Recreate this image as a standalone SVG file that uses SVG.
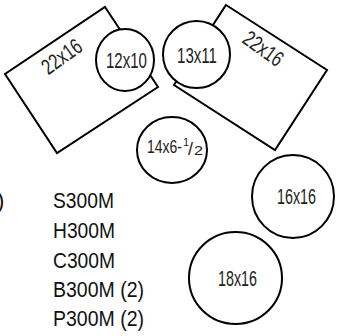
<svg xmlns="http://www.w3.org/2000/svg" width="340" height="336" viewBox="0 0 340 336">
<style>
.shape{fill:#fff;stroke:#000;stroke-width:2}
.lbl{font-family:"Liberation Sans",Arial,sans-serif;font-size:22px;fill:#222}
.list{font-family:"Liberation Sans",Arial,sans-serif;font-size:22px;fill:#111}
</style>
<rect width="340" height="336" fill="#fff"/>
<g id="table-left">
<polygon class="shape" points="105,7 158,87 57,153 5,74"/>
<text class="lbl" transform="translate(62,57) rotate(-36)" text-anchor="middle" dy="7" textLength="44" lengthAdjust="spacingAndGlyphs">22x16</text>
</g>
<g id="table-right">
<polygon class="shape" points="226,5 327,70 275,150 174,85"/>
<text class="lbl" transform="translate(263,49) rotate(36)" text-anchor="middle" dy="7" textLength="44" lengthAdjust="spacingAndGlyphs">22x16</text>
</g>
<g id="round-12x10">
<ellipse class="shape" cx="125" cy="60" rx="29" ry="31"/>
<text class="lbl" x="106" y="68" textLength="41" lengthAdjust="spacingAndGlyphs">12x10</text>
</g>
<g id="round-13x11">
<ellipse class="shape" cx="196.5" cy="54.5" rx="33.5" ry="33.5"/>
<text class="lbl" x="177" y="63" textLength="40" lengthAdjust="spacingAndGlyphs">13x11</text>
</g>
<g id="round-14x6-half">
<ellipse class="shape" cx="172" cy="150" rx="35" ry="33"/>
<text class="lbl" style="font-size:18px"><tspan x="147" y="153" textLength="35" lengthAdjust="spacingAndGlyphs">14x6-</tspan><tspan x="183" y="146" style="font-size:11px">1</tspan><tspan x="188" y="155" style="font-size:18px">/</tspan><tspan x="194" y="155" style="font-size:13px" textLength="9" lengthAdjust="spacingAndGlyphs">2</tspan></text>
</g>
<g id="round-16x16">
<ellipse class="shape" cx="293" cy="196.5" rx="41" ry="41.5"/>
<text class="lbl" x="277" y="204" textLength="39" lengthAdjust="spacingAndGlyphs">16x16</text>
</g>
<g id="round-18x16">
<ellipse class="shape" cx="235.5" cy="278" rx="46.5" ry="46"/>
<text class="lbl" x="218" y="286" textLength="39" lengthAdjust="spacingAndGlyphs">18x16</text>
</g>
<g id="list">
<text class="list" x="-3" y="208">)</text>
<text class="list" x="53" y="208" textLength="61" lengthAdjust="spacingAndGlyphs">S300M</text>
<text class="list" x="53" y="238" textLength="62" lengthAdjust="spacingAndGlyphs">H300M</text>
<text class="list" x="53" y="268" textLength="62" lengthAdjust="spacingAndGlyphs">C300M</text>
<text class="list" x="53" y="297" textLength="91" lengthAdjust="spacingAndGlyphs">B300M (2)</text>
<text class="list" x="53" y="326" textLength="91" lengthAdjust="spacingAndGlyphs">P300M (2)</text>
</g>
</svg>
